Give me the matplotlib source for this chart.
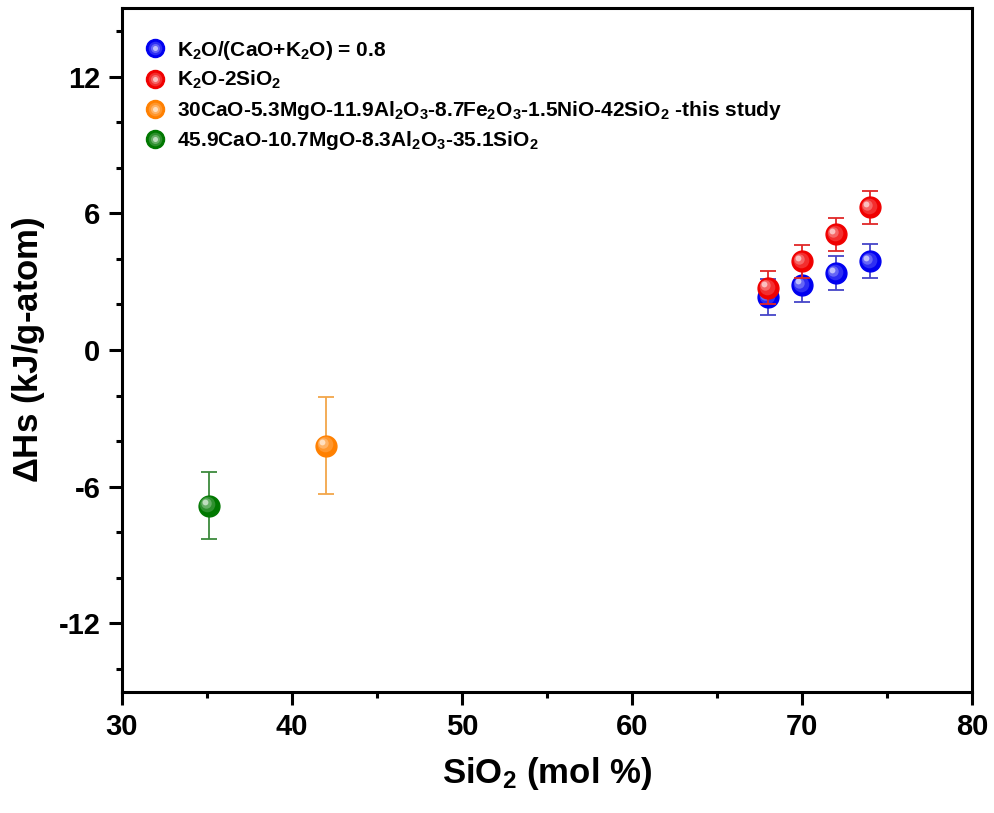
import numpy as np
import matplotlib
matplotlib.use("Agg")
import matplotlib.pyplot as plt
import matplotlib.transforms as mtransforms
from matplotlib.lines import Line2D
from matplotlib.colors import to_rgb
from matplotlib.legend_handler import HandlerTuple

plt.rcParams['font.family'] = ['Liberation Sans', 'DejaVu Sans']
plt.rcParams['font.weight'] = 'bold'
plt.rcParams['mathtext.fontset'] = 'custom'
plt.rcParams['mathtext.rm'] = 'Liberation Sans'
plt.rcParams['mathtext.bf'] = 'Liberation Sans:bold'
plt.rcParams['mathtext.default'] = 'bf'
plt.rcParams['axes.unicode_minus'] = False

### data
x_k2o_cao = [68, 70, 72, 74]
y_k2o_cao = [2.32, 2.85, 3.37, 3.90]
e_k2o_cao = [0.78, 0.75, 0.75, 0.75]

x_k2o_sio2 = [68, 70, 72, 74]
y_k2o_sio2 = [2.73, 3.90, 5.07, 6.26]
e_k2o_sio2 = [0.73, 0.72, 0.73, 0.72]

x_this = [42]
y_this = [-4.2]
e_this = [2.13]

x_cms = [35.1]
y_cms = [-6.83]
e_cms = [1.46]

labels = [r'K$_2$O/(CaO+K$_2$O) = 0.8',
          r'K$_2$O-2SiO$_2$',
          r'30CaO-5.3MgO-11.9Al$_2$O$_3$-8.7Fe$_2$O$_3$-1.5NiO-42SiO$_2$ -this study',
          r'45.9CaO-10.7MgO-8.3Al$_2$O$_3$-35.1SiO$_2$']
colors = ['#0000f0', '#f00000', '#ff8000', '#007800']
err_colors = ['#4545c8', '#e02828', '#f2a64a', '#3d8a3d']

series = [(x_k2o_cao, y_k2o_cao, e_k2o_cao),
          (x_k2o_sio2, y_k2o_sio2, e_k2o_sio2),
          (x_this, y_this, e_this),
          (x_cms, y_cms, e_cms)]


def lighter(c, f):
    r = np.array(to_rgb(c))
    return tuple(r + (1 - r) * f)


fig = plt.figure(figsize=(9.94, 8.13), dpi=100)
ax = fig.add_axes([0.1227, 0.149, 0.855, 0.841])

ms = 15
# shading layers: (size fraction, lightening, offset in points)
layers = [(0.75, 0.18, 0.9), (0.5, 0.4, 1.8), (0.28, 0.75, 2.6)]

handles = []
for i, (xs, ys, es) in enumerate(series):
    ax.errorbar(xs, ys, yerr=es, fmt='none', ecolor=err_colors[i],
                elinewidth=1.3, capsize=6, capthick=1.3, zorder=2 + 3 * i)
    ax.plot(xs, ys, 'o', ms=ms, color=colors[i], mec=colors[i], zorder=3 + 3 * i)
    h = [Line2D([], [], marker='o', ls='none', ms=13, color=colors[i], mec=colors[i])]
    for frac, lf, off in layers:
        tr = mtransforms.offset_copy(ax.transData, fig=fig, x=-off, y=off, units='points')
        ax.plot(xs, ys, 'o', ms=ms * frac, color=lighter(colors[i], lf), mew=0,
                transform=tr, zorder=3 + 3 * i)
        h.append(Line2D([], [], marker='o', ls='none', ms=13 * frac,
                        color=lighter(colors[i], lf), mew=0))
    handles.append(tuple(h))

ax.legend(handles, labels, handler_map={tuple: HandlerTuple(ndivide=1)},
          loc='upper left', bbox_to_anchor=(0.004, 0.983), frameon=False,
          fontsize=15, handlelength=1.0, handletextpad=0.6, labelspacing=0.36)

ax.set_xlim(30, 80)
ax.set_ylim(-15, 15)
ax.set_xticks([30, 40, 50, 60, 70, 80])
ax.set_xticks(np.arange(35, 80, 10), minor=True)
ax.set_yticks([-12, -6, 0, 6, 12])
ax.set_yticks(np.arange(-14, 15, 2), minor=True)

for s in ax.spines.values():
    s.set_linewidth(2.2)
ax.tick_params(which='major', direction='out', length=9.5, width=2.2, labelsize=21, pad=6)
ax.tick_params(which='minor', direction='out', length=4.5, width=2.2)
for lab in ax.get_xticklabels() + ax.get_yticklabels():
    lab.set_fontweight('bold')

ax.set_xlabel(r'SiO$_2$ (mol %)', fontsize=25, fontweight='bold', labelpad=10)
ax.set_ylabel(r'$\mathrm{\Delta}$Hs (kJ/g-atom)', fontsize=25, fontweight='bold', labelpad=8)

fig.savefig('out.png', dpi=100)
